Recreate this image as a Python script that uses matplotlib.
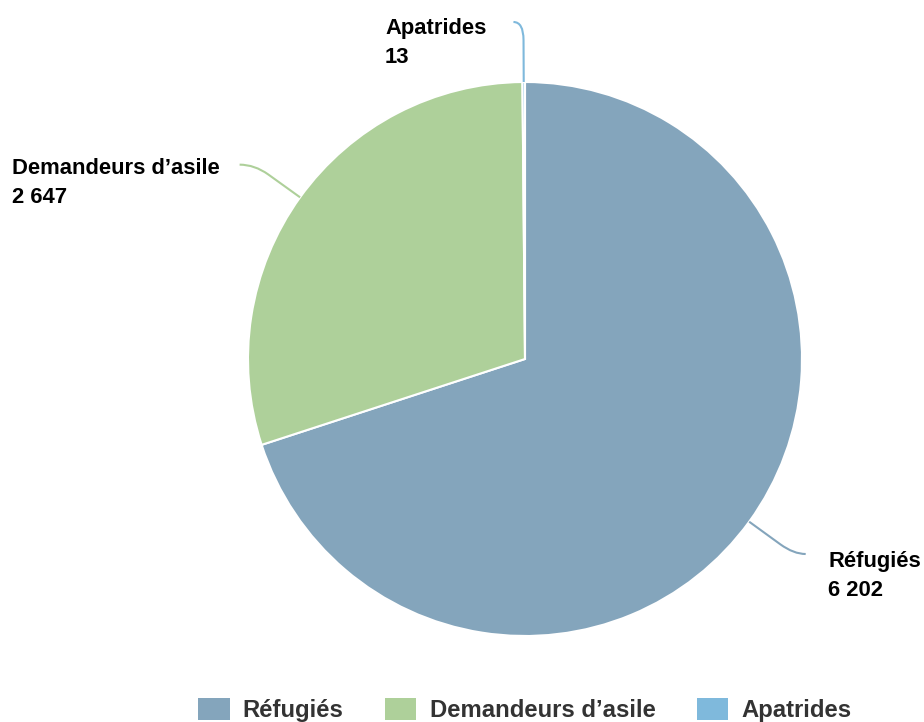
import matplotlib
matplotlib.use("Agg")
import matplotlib.pyplot as plt
from matplotlib.patches import Patch, PathPatch
from matplotlib.path import Path
import numpy as np

plt.rcParams["font.family"] = ["Liberation Sans", "DejaVu Sans"]

categories = ["Réfugiés", "Demandeurs d’asile", "Apatrides"]
values = [6202, 2647, 13]
colors = ["#84a5bc", "#aed09a", "#7fb9dc"]

W, H = 924, 722
cx, cy, r = 525, H - 359, 277

fig = plt.figure(figsize=(W / 100, H / 100), dpi=100)
ax = fig.add_axes([0, 0, 1, 1])
wedges, _ = ax.pie(values, colors=colors, startangle=90, counterclock=False,
                   center=(cx, cy), radius=r,
                   wedgeprops=dict(edgecolor="white", linewidth=1.5))
ax.set_xlim(0, W)
ax.set_ylim(0, H)
ax.set_aspect("equal")
ax.axis("off")

# label placement (text top-left, pixels from top) and leader geometry
label_pos = {"Réfugiés": (828, 551), "Demandeurs d’asile": (12, 158), "Apatrides": (385, 18)}
leader_len = {"Réfugiés": 55, "Demandeurs d’asile": 56, "Apatrides": 60}
leader_tail = {"Réfugiés": 12, "Demandeurs d’asile": -15, "Apatrides": -10}

for w, name, v, col in zip(wedges, categories, values, colors):
    mid = np.deg2rad((w.theta1 + w.theta2) / 2)
    d = np.array([np.cos(mid), np.sin(mid)])
    p0 = np.array([cx, cy]) + d * r
    p1 = p0 + d * leader_len[name] * 0.7
    p2 = p0 + d * leader_len[name]
    p3 = p2 + np.array([leader_tail[name], 0])
    path = Path([p0, p1, p2, p3], [Path.MOVETO, Path.LINETO, Path.CURVE3, Path.CURVE3])
    ax.add_patch(PathPatch(path, facecolor="none", edgecolor=col, lw=1.5))
    tx, ty = label_pos[name]
    ax.text(tx, H - ty, f"{name}\n{v:,}".replace(",", " "), ha="left", va="top",
            fontsize=15.8, fontweight="bold", color="black", linespacing=1.5)

handles = [Patch(facecolor=c, edgecolor="none") for c in colors]
fig.legend(handles, categories, loc="lower center", bbox_to_anchor=(525 / W, -0.03),
           ncol=3, frameon=False, prop=dict(size=17.2, weight="bold"),
           labelcolor="#333333", handlelength=1.3, handleheight=1.0,
           handletextpad=0.55, columnspacing=1.75)

fig.savefig("out.png", dpi=100)
